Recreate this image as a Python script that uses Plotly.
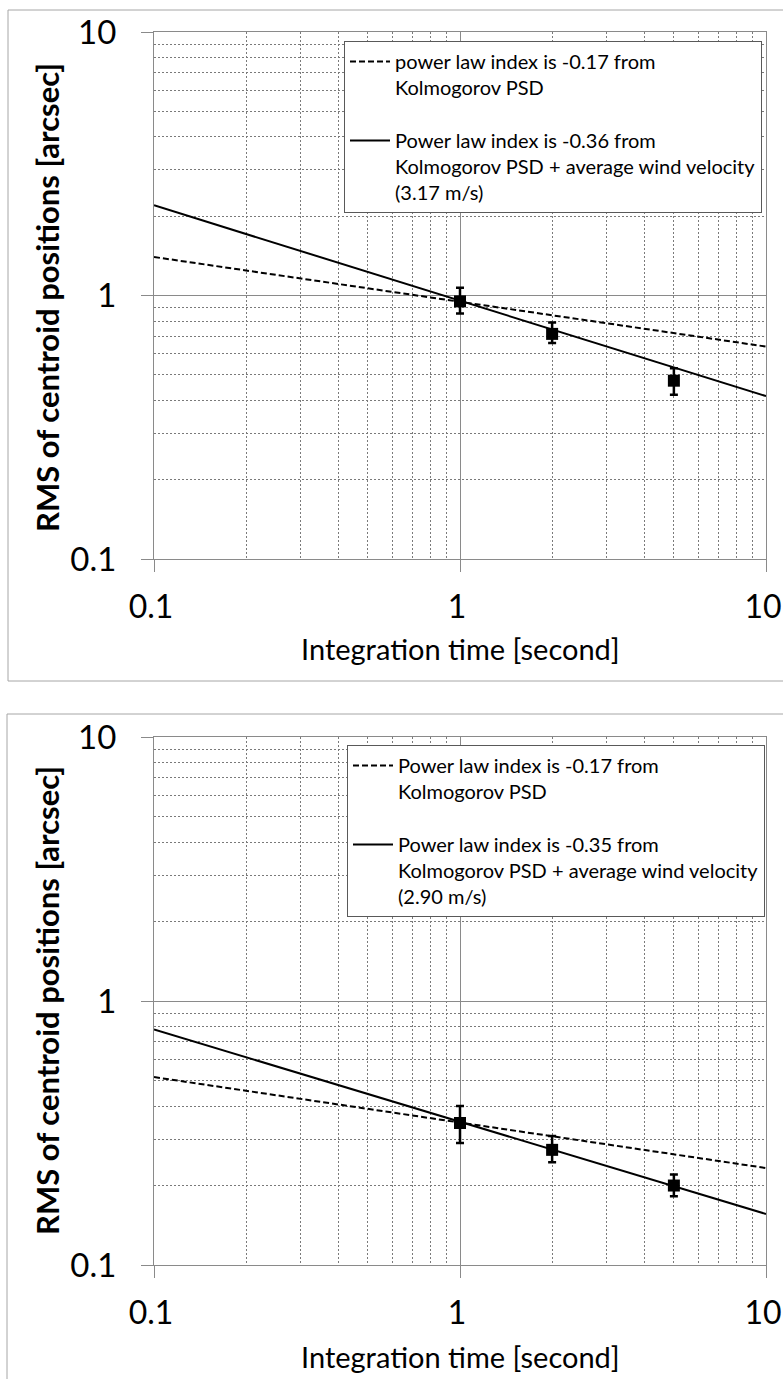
import plotly.graph_objects as go

# ---------------- data ----------------
t_points = [1, 2, 5]

# top panel
rms_top = [0.95, 0.715, 0.475]
rms_top_hi = [1.07, 0.79, 0.53]
rms_top_lo = [0.855, 0.66, 0.42]
line_x = [0.1, 10]
kolmo_top = [1.40, 0.64]
wind_top = [2.20, 0.415]

# bottom panel
rms_bot = [0.345, 0.273, 0.20]
rms_bot_hi = [0.40, 0.308, 0.22]
rms_bot_lo = [0.29, 0.245, 0.182]
kolmo_bot = [0.515, 0.233]
wind_bot = [0.78, 0.156]

legend_top = ["power law index is -0.17 from<br>Kolmogorov PSD",
              "Power law index is -0.36 from<br>Kolmogorov PSD + average wind velocity<br>(3.17 m/s)"]
legend_bot = ["Power law index is -0.17 from<br>Kolmogorov PSD",
              "Power law index is -0.35 from<br>Kolmogorov PSD + average wind velocity<br>(2.90 m/s)"]

tick_vals = [0.1, 1, 10]
tick_text = ["0.1", "1", "10"]
x_title = "Integration time [second]"
y_title = "RMS of centroid positions [arcsec]"

# ---------------- layout helpers ----------------
W, H = 783, 1379
FONT = "Lato"
def px(x):
    return x / W
def py(y):
    return 1 - y / H

minor_vals = [m * 10 ** e for e in (-1, 0) for m in range(2, 10)]
GRID = "#8a8a8a"
MINOR = "#7a7a7a"

fig = go.Figure()

def add_panel(suffix, legend_id, y_vals, hi, lo, kol, wnd, names):
    xa = "x" + suffix
    ya = "y" + suffix
    fig.add_trace(go.Scatter(x=line_x, y=kol, mode="lines", name=names[0],
                             line=dict(color="black", width=2, dash="6px,3px"),
                             xaxis=xa, yaxis=ya, legend=legend_id, legendgroup="a" + suffix))
    fig.add_trace(go.Scatter(x=line_x, y=wnd, mode="lines", name=names[1],
                             line=dict(color="black", width=2),
                             xaxis=xa, yaxis=ya, legend=legend_id, legendgroup="b" + suffix))
    fig.add_trace(go.Scatter(x=t_points, y=y_vals, mode="markers", showlegend=False,
                             marker=dict(symbol="square", size=12, color="black"),
                             error_y=dict(type="data", symmetric=False,
                                          array=[h - v for h, v in zip(hi, y_vals)],
                                          arrayminus=[v - l for l, v in zip(lo, y_vals)],
                                          color="black", thickness=2.5, width=4),
                             xaxis=xa, yaxis=ya))

add_panel("", "legend", rms_top, rms_top_hi, rms_top_lo, kolmo_top, wind_top, legend_top)
add_panel("2", "legend2", rms_bot, rms_bot_hi, rms_bot_lo, kolmo_bot, wind_bot, legend_bot)

def axis_common(size):
    return dict(type="log", range=[-1, 1], showline=True, linecolor=GRID, linewidth=1,
                mirror=True, showgrid=True, gridcolor=GRID, gridwidth=1,
                tickvals=tick_vals, ticktext=tick_text, ticks="outside", ticklen=12,
                tickcolor=GRID, tickwidth=1, automargin=False, ticklabeloverflow="allow",
                tickfont=dict(family=FONT, size=size, color="black"),
                minor=dict(tickvals=minor_vals, showgrid=True, gridcolor=MINOR,
                           griddash="2px,2px", gridwidth=1, ticks=""),
                zeroline=False)

xd = [px(154), px(766)]
top_dom = [py(559), py(32)]
bot_dom = [py(1265), py(737)]

leg_common = dict(xanchor="left", yanchor="top",
                  bgcolor="white", bordercolor="#595959", borderwidth=1,
                  font=dict(family=FONT, size=20, color="black"),
                  valign="top", tracegroupgap=24, itemwidth=40)

fig.update_layout(
    width=W, height=H, margin=dict(l=0, r=0, t=0, b=0, autoexpand=False),
    paper_bgcolor="white", plot_bgcolor="white",
    font=dict(family=FONT, color="black"),
    xaxis=dict(domain=xd, anchor="y", ticklabelstandoff=8, ticklabelshift=-3, **axis_common(32)),
    yaxis=dict(domain=top_dom, anchor="x", ticklabelstandoff=18, **axis_common(33)),
    xaxis2=dict(domain=xd, anchor="y2", ticklabelstandoff=8, ticklabelshift=-3, **axis_common(32)),
    yaxis2=dict(domain=bot_dom, anchor="x2", ticklabelstandoff=18, **axis_common(33)),
    legend=dict(x=px(344), y=py(41), **leg_common),
    legend2=dict(x=px(347), y=py(745), **leg_common),
    showlegend=True,
)

# panel frames
fig.add_shape(type="rect", xref="paper", yref="paper", x0=px(8), x1=1.02, y0=py(681), y1=py(10),
              line=dict(color="#a6a6a6", width=1), fillcolor="rgba(0,0,0,0)", layer="below")
fig.add_shape(type="rect", xref="paper", yref="paper", x0=px(7), x1=1.02, y0=-0.02, y1=py(714),
              line=dict(color="#a6a6a6", width=1), fillcolor="rgba(0,0,0,0)", layer="below")

# axis titles
for yc in (648, 1356):
    fig.add_annotation(text=x_title, xref="paper", yref="paper", x=px(460), y=py(yc),
                       xanchor="center", yanchor="middle", showarrow=False,
                       font=dict(family=FONT, size=29, color="black"))
for yc in (298, 1001):
    fig.add_annotation(text="<b>" + y_title + "</b>", xref="paper", yref="paper", x=px(47), y=py(yc),
                       xanchor="center", yanchor="middle", showarrow=False, textangle=-90,
                       font=dict(family=FONT, size=31, color="black"))

fig.write_html("out.html")
